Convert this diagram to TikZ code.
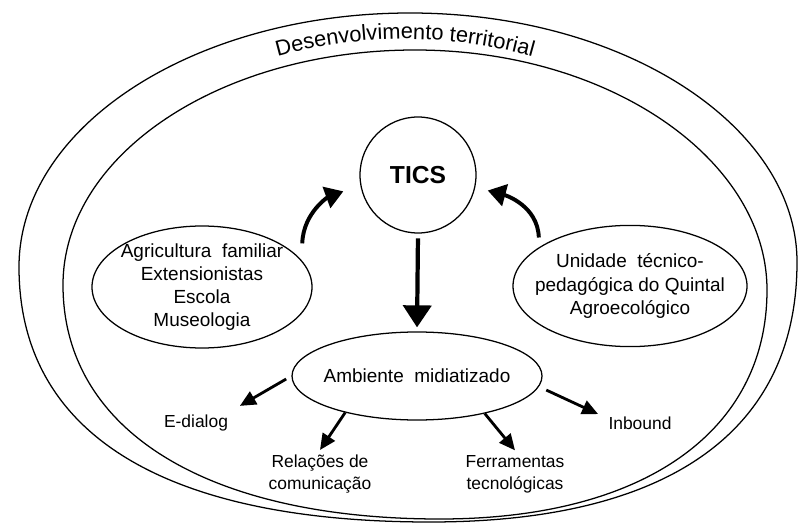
\documentclass[tikz,border=0pt]{standalone}
\usepackage{fontspec}
\setmainfont{Liberation Sans}
\usetikzlibrary{arrows.meta,positioning,shapes.geometric,decorations.text}

\begin{document}
\begin{tikzpicture}[
  oval/.style={draw, ellipse, line width=0.9pt, inner sep=-5mm, align=center, font=\fontsize{13.5}{16.4}\selectfont},
  lbl/.style={align=center, font=\fontsize{12.4}{15.5}\selectfont},
  bigarrow/.style={line width=3pt, -{Triangle[length=0.55cm, width=0.7cm]}},
  bentarrow/.style={line width=2.8pt, -{Triangle[length=0.45cm, width=0.55cm]}},
  smallarrow/.style={line width=2pt, -{Triangle[length=0.4cm, width=0.36cm]}}]
  \useasboundingbox (0,0) rectangle (19.95,13.1);
  % the two frames
  \draw[line width=0.9pt] (0.475,6.425) .. controls (0.475,9.95) and (4.875,12.775) .. (10.25,12.775)
    .. controls (15.625,12.775) and (19.925,9.925) .. (19.925,6.55)
    .. controls (19.925,2.325) and (16.725,0.05) .. (10.75,0.05)
    .. controls (4.075,0.05) and (0.475,2.275) .. cycle;
  \draw[line width=0.9pt] (1.575,5.975) .. controls (1.575,9.225) and (5.5,11.85) .. (10.375,11.85)
    .. controls (15.25,11.85) and (19.175,9.1) .. (19.175,5.85)
    .. controls (19.175,2.3) and (16.075,0.125) .. (11.0,0.125)
    .. controls (5.15,0.125) and (1.575,2.35) .. cycle;
  \path[decorate, decoration={text along path, text align=center,
      text={|\fontsize{15.5}{18}\selectfont|Desenvolvimento territorial}}]
    (6.089,11.413) arc[start angle=110, end angle=70, radius=11.8];
  % nodes
  \node[draw, circle, line width=0.9pt, minimum size=2.9cm, font=\fontsize{17.5}{20}\selectfont\bfseries] (tics) at (10.45,8.725) {TICS};
  \node[oval, minimum width=5.5cm, minimum height=3.05cm] (agri) at (5.05,5.925) {Agricultura\ \ familiar\\Extensionistas\\Escola\\Museologia};
  \node[oval, minimum width=5.85cm, minimum height=3.03cm] (unid) at (15.75,5.95) {Unidade\ \ técnico-\\pedagógica do Quintal\\Agroecológico};
  \node[oval, minimum width=6.25cm, minimum height=2.2cm] (amb) at (10.425,3.7) {Ambiente\ \ midiatizado};
  \node[lbl] (edialog) at (4.9,2.525) {E-dialog};
  \node[lbl] (relacoes) at (8.0,1.25) {Relações de\\comunicação};
  \node[lbl] (ferram) at (12.875,1.25) {Ferramentas\\tecnológicas};
  \node[lbl] (inbound) at (16.0,2.525) {Inbound};
  % arrows
  \draw[bigarrow, shorten <=0.12cm, shorten >=0.1cm] (tics.south) -- (amb.north);
  \draw[bentarrow, shorten >=0.45cm] ([xshift=5.5mm]agri.north east) to[out=88, in=200] (tics.190);
  \draw[bentarrow, shorten >=0.32cm] ([xshift=-2mm, yshift=1.3mm]unid.north west) to[out=92, in=-15] (tics.-12);
  \draw[smallarrow, shorten <=0.15cm, shorten >=0.2cm] (amb.west) -- (edialog.north east);
  \draw[smallarrow] (amb.207) -- (relacoes.north);
  \draw[smallarrow] (amb.-29) -- (ferram.north);
  \draw[smallarrow, shorten <=0.2cm, shorten >=0.15cm] (amb.-5) -- (inbound.170);
\end{tikzpicture}
\end{document}
